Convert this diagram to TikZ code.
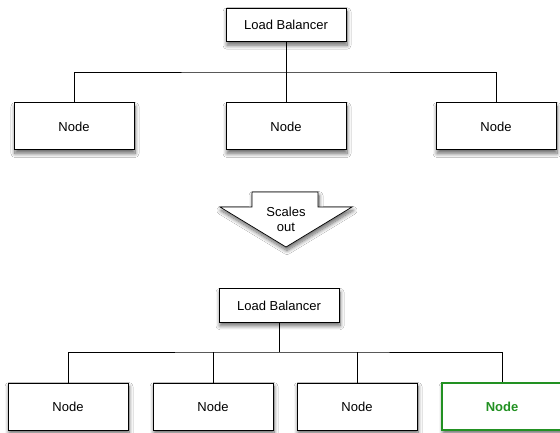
\documentclass[tikz,border=0pt]{standalone}
\usepackage{fontspec}
\setmainfont{Liberation Sans}
\usetikzlibrary{shadows.blur}
\definecolor{nodegreen}{RGB}{34,145,34}
\begin{document}
\begin{tikzpicture}[x=1pt,y=-1pt,
  shad/.style={blur shadow={shadow xshift=1pt, shadow yshift=-3.5pt, shadow blur radius=4pt, shadow blur steps=10, shadow opacity=60}},
  box/.style={draw=black, line width=1pt, fill=white, minimum width=120pt, minimum height=47pt, inner sep=0pt, font=\fontsize{13}{15}\selectfont, shad},
  lb/.style={box, minimum height=33.5pt},
  newbox/.style={box, draw=nodegreen, line width=2pt, text=nodegreen, font=\fontsize{13}{15}\selectfont\bfseries},
  bus/.style={line width=0.6pt},
  stem/.style={line width=1pt}]
\useasboundingbox[fill=white] (0,0) rectangle (560,433);

% top
\node[lb] (lb1) at (286,25) {Load Balancer};
\node[box] (n1) at (74,126.5) {Node};
\node[box] (n2) at (286,126.5) {Node};
\node[box] (n3) at (496,126.5) {Node};
\coordinate (bus1) at (286,72);
\draw[bus] (n1.north) |- (bus1) -| (n3.north);
\draw[stem] (lb1.south) -- (n2.north);

% arrow
\draw[line width=0.7pt, fill=white, line join=miter, shad]
  (252,192) -- (318,192) -- (318,207) -- (352,207) -- (286,247) -- (220,207) -- (252,207) -- cycle;
\node[align=center, font=\fontsize{13}{15}\selectfont, inner sep=0pt] (scales) at (286,219.5) {Scales\\out};

% bottom
\node[lb] (lb2) at (279,305.5) {Load Balancer};
\node[box] (m1) at (68,406.5) {Node};
\node[box] (m2) at (213,406.5) {Node};
\node[box] (m3) at (357,406.5) {Node};
\node[newbox] (m4) at (502,406.5) {Node};
\coordinate (bus2) at (279,352);
\draw[bus] (m1.north) |- (bus2) -| (m4.north);
\draw[bus] (m2.north) -- (m2.north |- bus2);
\draw[bus] (m3.north) -- (m3.north |- bus2);
\draw[stem] (lb2.south) -- (bus2);
\end{tikzpicture}
\end{document}
